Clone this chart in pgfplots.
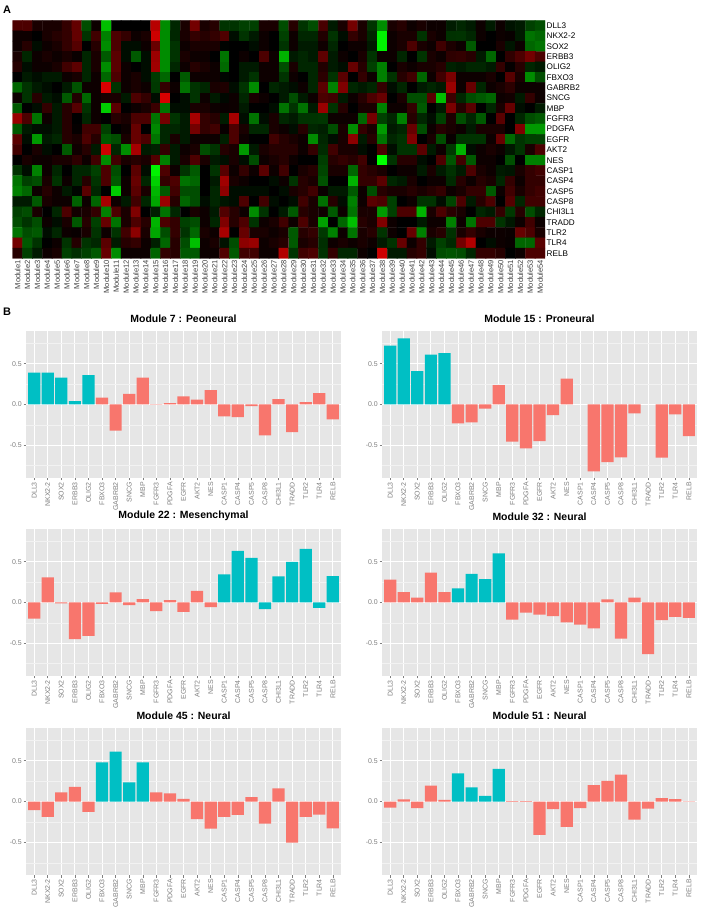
\documentclass[border=0pt]{standalone}
\usepackage{fontspec}
\setmainfont{Liberation Sans}
\usepackage{pgfplots}
\pgfplotsset{compat=1.18}
\usepackage{pgfplotstable}

\definecolor{ggbg}{RGB}{230,230,230}
\definecolor{ggminor}{RGB}{242,242,242}
\definecolor{ggcyan}{RGB}{0,191,196}
\definecolor{ggred}{RGB}{248,118,109}
\definecolor{ggtick}{RGB}{127,127,127}

% heatmap values, one gene per block of three lines (modules 1-18, 19-36, 37-54)
\pgfplotstableread[row sep=\\, header=false]{
0.3\\0.3\\0.1\\0.1\\0.1\\0.2\\0.39\\-0.3\\0.05\\-0.75\\0\\0\\0\\0\\0.72\\-0.55\\-0.15\\0.1\\
0.45\\0.1\\0.15\\-0.2\\-0.2\\-0.25\\-0.25\\0.1\\0.1\\-0.3\\0.15\\-0.2\\-0.3\\0.28\\-0.1\\0.1\\0.45\\0.1\\
-0.2\\-0.55\\0.1\\0.15\\0.05\\0.1\\0.05\\0.05\\-0.11\\-0.15\\-0.1\\0.05\\-0.1\\0.05\\-0.07\\-0.1\\-0.25\\-0.3\\
0.05\\0.05\\0\\0.1\\0.15\\0.2\\0.39\\-0.2\\0.25\\-0.5\\0.3\\0.2\\0.05\\0.1\\0.81\\-0.55\\-0.15\\0.1\\
0.2\\0.15\\0.2\\0.31\\-0.05\\-0.2\\-0.1\\0.05\\0\\-0.25\\0.05\\-0.15\\-0.15\\0.13\\-0.2\\-0.05\\0.2\\0.1\\
-0.15\\-0.95\\0.05\\0.1\\0.1\\-0.2\\0.1\\0.05\\-0.19\\-0.2\\-0.15\\0.05\\0\\0.05\\0.03\\-0.1\\-0.45\\-0.4\\
0.05\\0.15\\-0.05\\0.05\\0.1\\0.2\\0.33\\0\\0.15\\-0.55\\0.3\\-0.05\\-0.05\\0.05\\0.41\\-0.55\\-0.2\\0.05\\
0.1\\0.1\\0.1\\-0.01\\0\\0\\-0.05\\0.05\\0\\-0.2\\0.05\\-0.1\\-0.1\\0.06\\-0.15\\0\\0.05\\0.05\\
-0.1\\-0.95\\0.05\\0.1\\0.3\\0.1\\0.05\\0.25\\0.11\\0.05\\-0.35\\0\\0\\0.1\\-0.08\\0.05\\-0.4\\-0.45\\
0.1\\-0.15\\0.05\\0.1\\0.05\\0.1\\0.04\\-0.15\\0.1\\-0.35\\0.35\\-0.05\\-0.35\\-0.05\\0.61\\-0.55\\-0.2\\0.1\\
0.05\\0.05\\0\\-0.45\\0\\0.05\\0\\0.3\\0.05\\-0.7\\-0.1\\-0.15\\-0.1\\0.37\\-0.1\\0.05\\0\\0.1\\
-0.2\\0.05\\0.05\\-0.15\\0\\-0.2\\0.1\\0.05\\0.18\\0.2\\0.15\\-0.1\\-0.4\\0\\0.19\\0.3\\0.45\\0.3\\
0.15\\-0.05\\0.05\\0.05\\0.1\\0.25\\0.36\\-0.15\\0.1\\-0.55\\0.35\\0.05\\0\\-0.05\\0.63\\-0.55\\-0.15\\0.05\\
0.15\\0.1\\0.05\\-0.41\\0\\-0.1\\-0.1\\0.05\\0.05\\-0.3\\0.1\\-0.15\\-0.15\\0.13\\-0.1\\-0.05\\0.4\\0.15\\
-0.25\\-0.5\\0\\0.1\\0.05\\0.1\\0.1\\0.15\\-0.13\\-0.1\\-0.15\\-0.15\\-0.1\\0.2\\0.02\\0.15\\-0.15\\-0.1\\
0\\-0.1\\-0.05\\-0.1\\-0.1\\0.05\\0.09\\-0.15\\0.05\\-0.4\\0.3\\0.05\\0.1\\-0.05\\-0.23\\-0.4\\0\\-0.35\\
0.05\\0.05\\0.05\\-0.02\\0\\-0.1\\-0.2\\0.05\\0.05\\-0.2\\0.05\\0\\-0.15\\0.17\\-0.2\\0.35\\0\\0.2\\
0.05\\-0.5\\-0.2\\0.15\\0.25\\-0.4\\0.05\\0.25\\0.48\\0.05\\0.05\\0.05\\0.1\\0\\0.34\\0.1\\-0.55\\-0.3\\
-0.4\\-0.2\\-0.1\\-0.05\\0\\-0.1\\-0.32\\0.05\\0.05\\0.85\\-0.2\\0.05\\0.1\\0.05\\-0.22\\0.2\\0.05\\-0.45\\
-0.2\\-0.15\\0.1\\0.12\\-0.05\\-0.2\\-0.55\\0\\-0.15\\-0.1\\-0.05\\0.05\\-0.15\\0.35\\-0.5\\0.5\\-0.15\\-0.1\\
-0.15\\0.2\\-0.05\\-0.15\\0\\-0.1\\-0.15\\-0.1\\0.61\\0.05\\0.4\\-0.15\\0.05\\0.1\\0.17\\0.05\\0.05\\0.05\\
0.05\\-0.2\\0.15\\-0.1\\-0.05\\-0.35\\0.13\\-0.4\\0.05\\0.1\\0.1\\-0.1\\0.3\\0.2\\-0.05\\0.85\\0\\-0.05\\
-0.2\\0.05\\-0.1\\-0.03\\0.05\\-0.15\\0.1\\0.05\\0\\-0.1\\-0.3\\-0.1\\0.05\\0.29\\0.25\\-0.1\\0.05\\0.15\\
0.3\\0.4\\0\\0.1\\-0.3\\-0.3\\0.35\\-0.75\\0.23\\-0.15\\-0.3\\-0.35\\-0.4\\0.05\\0.07\\-0.1\\0.2\\0.05\\
-0.35\\0\\-0.05\\0.2\\-0.1\\0.15\\0.33\\-0.2\\0.05\\-0.8\\0.35\\0\\0.05\\0.1\\0.23\\-0.45\\-0.05\\-0.05\\
0.1\\0.1\\0.05\\0.04\\0.05\\-0.1\\0\\0\\-0.05\\-0.45\\-0.2\\-0.45\\-0.1\\0.6\\-0.2\\0.15\\0\\0.1\\
0.1\\-0.5\\0.05\\0.05\\0.2\\-0.35\\0\\-0.1\\0.48\\0.15\\0.35\\0\\-0.15\\0.1\\0.4\\-0.05\\0\\-0.1\\
0.6\\0.3\\-0.45\\0.05\\-0.1\\0.15\\0\\-0.15\\0.05\\0\\0.15\\0.1\\0.3\\0.3\\-0.46\\0.45\\-0.2\\-0.1\\
0.65\\0.2\\0.15\\-0.11\\0.65\\-0.05\\-0.45\\-0.05\\0.1\\-0.15\\-0.1\\-0.2\\-0.2\\-0.21\\0.05\\0.05\\0.05\\-0.4\\
0.45\\-0.25\\-0.15\\-0.5\\0.15\\-0.15\\-0.05\\-0.25\\0.11\\-0.3\\-0.15\\-0.35\\0\\0.35\\0\\-0.15\\-0.3\\-0.35\\
-0.35\\-0.1\\-0.05\\-0.05\\-0.1\\0.15\\0.02\\0.25\\0.25\\-0.25\\0\\0.05\\0.4\\0\\-0.53\\-0.15\\-0.15\\-0.1\\
0.45\\0.2\\0.25\\0.03\\0.3\\0.1\\-0.15\\-0.15\\0.1\\0.05\\-0.05\\0.15\\-0.15\\-0.12\\-0.3\\0.1\\-0.55\\0.2\\
0.1\\-0.6\\-0.1\\-0.15\\0.4\\-0.3\\0.05\\0.15\\0.1\\0.05\\-0.1\\0.1\\0.1\\0.1\\0\\0.5\\-0.6\\-0.6\\
0.35\\-0.05\\-0.6\\-0.1\\-0.15\\0.15\\0.1\\0.3\\0.15\\-0.35\\-0.3\\0.1\\0.4\\0.3\\-0.45\\-0.15\\0.1\\-0.1\\
0.05\\0.05\\0.05\\-0.12\\0.3\\0.05\\0\\0\\0.25\\0.15\\0.1\\0.05\\-0.55\\-0.15\\-0.05\\0.1\\0.55\\-0.1\\
0.15\\-0.45\\-0.15\\-0.2\\0.5\\0\\0.1\\-0.3\\0.03\\-0.2\\-0.2\\-0.2\\0.05\\0.4\\-0.41\\-0.2\\-0.25\\-0.25\\
0.25\\0\\0.1\\-0.05\\0\\-0.35\\0.06\\0.15\\-0.1\\0.8\\-0.15\\-0.55\\0.65\\-0.1\\-0.13\\0.2\\-0.1\\0.05\\
0.1\\-0.3\\-0.2\\0.14\\0.1\\-0.6\\-0.1\\0.1\\0.15\\0.15\\0.15\\0.05\\0.2\\-0.17\\0.25\\0.1\\0.1\\-0.05\\
0\\0.3\\-0.05\\-0.2\\-0.2\\0.35\\-0.1\\0.05\\-0.22\\-0.7\\-0.05\\0.05\\0.1\\0.05\\-0.09\\-0.2\\0.1\\0.3\\
0\\0.1\\0.05\\0.05\\0.1\\0.1\\0.18\\0.05\\0.25\\-0.55\\0.25\\0.1\\0.15\\0.1\\0.32\\-0.5\\-0.1\\0.1\\
0.3\\0.1\\-0.1\\-0.06\\0.1\\-0.05\\-0.3\\0.05\\0.1\\0.15\\0.05\\0\\0\\-0.24\\0.15\\0.2\\0.15\\0.25\\
0\\-1\\-0.2\\0.15\\0.15\\-0.05\\0\\0.3\\-0.33\\0.25\\-0.35\\0.05\\0.05\\0\\-0.31\\0\\-0.5\\-0.5\\
-0.2\\-0.05\\-0.5\\0.05\\-0.15\\0\\-0.15\\-0.15\\-0.25\\0.3\\-0.3\\0\\0.35\\-0.05\\-0.95\\0.3\\0.05\\-0.2\\
-0.35\\0\\-0.2\\0.34\\0.05\\0.2\\0.05\\0.35\\0.05\\0.25\\0\\0.1\\0.15\\-0.27\\0.1\\0.1\\-0.4\\0.2\\
0.15\\0.1\\0\\0.05\\0.05\\-0.1\\0.1\\-0.1\\-0.19\\-0.1\\0.3\\0.1\\0.05\\-0.1\\-0.08\\0.1\\0.2\\0.25\\
-0.45\\-0.25\\-0.3\\0.1\\-0.2\\0.05\\-0.15\\0.15\\-0.2\\0.3\\-0.35\\0.05\\0.4\\-0.15\\-0.82\\0.2\\0.3\\-0.45\\
-0.4\\0\\-0.1\\0.63\\0.1\\0.05\\0\\0\\-0.05\\0.05\\-0.2\\0.15\\0.1\\-0.32\\0\\0\\-0.7\\0.2\\
0.2\\0.35\\-0.15\\-0.1\\0.1\\0\\0.05\\0.05\\-0.16\\0.15\\0.05\\0.15\\0.1\\-0.15\\0.2\\0.05\\0.2\\0.2\\
-0.5\\-0.4\\0.05\\0.15\\0.05\\-0.1\\-0.02\\0.35\\-0.15\\0\\-0.8\\0.05\\0.35\\0.1\\-0.71\\-0.35\\0.25\\-0.3\\
-0.3\\0\\-0.15\\0.55\\-0.05\\-0.05\\-0.05\\-0.05\\0\\-0.05\\0.1\\0.15\\0.25\\0.04\\-0.1\\-0.1\\-0.35\\0.05\\
-0.3\\0.15\\0.1\\0.1\\0.15\\0.1\\0.15\\0.2\\0.05\\0.1\\0.2\\0.2\\-0.35\\0.05\\0.25\\0.1\\0.2\\0.25\\
-0.1\\-0.1\\-0.35\\0.1\\0.05\\0.05\\-0.38\\0.05\\-0.4\\0.65\\0.05\\-0.1\\0.25\\-0.15\\-0.65\\0.6\\0.15\\-0.4\\
-0.3\\-0.05\\-0.15\\-0.08\\-0.05\\0.3\\0\\0.25\\-0.05\\0\\-0.05\\0.25\\0.1\\-0.44\\0.15\\-0.05\\-0.5\\0.05\\
0.35\\0.3\\-0.25\\0\\0.05\\-0.2\\-0.2\\-0.05\\-0.27\\0.3\\-0.1\\0.15\\0.3\\0\\0.33\\-0.15\\0.25\\0.25\\
-0.25\\-0.3\\0.1\\0\\-0.15\\0.3\\0.07\\0.1\\0.2\\-0.5\\0.3\\0.1\\0.5\\0\\-0.12\\-0.45\\-0.15\\0\\
0.1\\0.05\\-0.1\\0.32\\0.15\\0.05\\-0.55\\-0.2\\0\\-0.1\\-0.35\\0.15\\0.1\\0.06\\-0.35\\0.05\\-0.45\\0.1\\
0.1\\-0.6\\-0.25\\0.3\\0.3\\-0.7\\0.1\\0.3\\0.16\\0.1\\0\\-0.15\\-0.1\\0.2\\-0.22\\0.15\\-0.3\\-0.15\\
-0.3\\-0.2\\-0.3\\0.05\\-0.05\\0.1\\-0.34\\0.15\\-0.25\\0.4\\-0.45\\0.1\\0.3\\0.15\\-0.7\\0.3\\0.2\\-0.25\\
-0.3\\0.05\\-0.15\\0.5\\0.15\\0.3\\-0.2\\0.05\\0.1\\0.25\\0.05\\0.3\\0.1\\-0.63\\0\\-0.4\\-0.75\\0.15\\
0.1\\0.5\\0.05\\0\\0\\-0.1\\0.05\\0.05\\-0.5\\0.05\\-0.45\\0.3\\0.3\\-0.2\\-0.09\\0.05\\0.25\\0.05\\
-0.45\\-0.3\\-0.35\\-0.05\\-0.15\\0.05\\0.03\\0.1\\-0.2\\0.05\\-0.2\\0.25\\0.55\\0.1\\-0.65\\-0.3\\0.2\\-0.2\\
-0.4\\0.1\\0.05\\0.66\\0\\0.4\\0.1\\0.1\\0.05\\0.1\\-0.35\\0.15\\0.2\\-0.22\\-0.5\\0.05\\-0.45\\0.1\\
0.15\\-0.2\\0.05\\0\\0.4\\-0.5\\0.1\\0.15\\-0.19\\0.1\\0.2\\0.1\\0.05\\0.05\\0.04\\0.4\\0.3\\0.1\\
0.45\\-0.35\\-0.2\\0\\0.05\\-0.2\\0.14\\-0.2\\-0.15\\0.35\\-0.1\\0.15\\0.2\\0.05\\-0.12\\-0.4\\0.15\\-0.3\\
-0.75\\0.05\\0.1\\-0.07\\-0.3\\0.55\\0.6\\0.05\\0.1\\0.15\\-0.35\\0.1\\0.15\\-0.18\\0.05\\0.1\\0.05\\0.1\\
0.05\\-0.1\\-0.2\\0.4\\0.05\\0.2\\-0.1\\-0.25\\-0.16\\0.45\\0.7\\0\\-0.05\\0.05\\0.03\\-0.4\\-0.4\\0.35\\
0.15\\-0.25\\-0.1\\0.05\\0.1\\-0.25\\-0.18\\-0.25\\-0.35\\0.4\\-0.55\\0.05\\0.05\\0.05\\-0.39\\0.2\\0.15\\-0.35\\
-0.35\\0.05\\0.05\\0.32\\-0.35\\0.25\\0.25\\0.05\\0.05\\0.7\\-0.2\\0.25\\0.3\\-0.19\\0.2\\-0.15\\-0.15\\0.05\\
0\\0.8\\-0.1\\-0.1\\0.15\\0.2\\-0.05\\-0.3\\-0.33\\-0.3\\-0.15\\0.2\\0.2\\0.15\\0\\0.05\\0.3\\0.3\\
}\heat

\pgfplotsset{
  modbar/.style={
    scale only axis, width=315bp, height=147bp, anchor=south west,
    xmin=-0.6, xmax=22.6, ymin=-0.9, ymax=0.9,
    axis background/.style={fill=ggbg},
    axis line style={draw=none},
    xtick={0,...,22},
    xticklabels={DLL3,NKX2-2,SOX2,ERBB3,OLIG2,FBXO3,GABRB2,SNCG,MBP,FGFR3,PDGFA,EGFR,AKT2,NES,CASP1,CASP4,CASP5,CASP8,CHI3L1,TRADD,TLR2,TLR4,RELB},
    ytick={-0.5,0,0.5}, yticklabels={-0.5,0.0,0.5},
    minor ytick={-0.75,-0.25,0.25,0.75},
    xmajorgrids, ymajorgrids, yminorgrids,
    major grid style={white, line width=0.9bp},
    minor grid style={ggminor, line width=0.5bp},
    tick pos=left, tick align=outside,
    major tick length=2.5bp, minor tick length=0pt,
    tick style={ggtick, line width=0.5bp},
    x tick label style={rotate=90, anchor=east, font=\fontsize{7}{8}\selectfont, text=ggtick, inner sep=1.5bp},
    y tick label style={font=\fontsize{7}{8}\selectfont, text=ggtick, inner sep=1.5bp},
    title style={font=\bfseries\fontsize{10.5}{12}\selectfont, at={(0.5,1)}, anchor=south, inner sep=2bp},
    ybar, bar width=0.9,
  },
  inset/.style={fill=ggcyan, draw=none, bar shift=0pt},
  outset/.style={fill=ggred, draw=none, bar shift=0pt},
}

\begin{document}
\begin{tikzpicture}
\path[use as bounding box] (0,0) rectangle (703bp,914bp);

\node[font=\bfseries\fontsize{11}{13}\selectfont, anchor=base west, inner sep=0pt] at (3bp,900.5bp) {A};
\node[font=\bfseries\fontsize{11}{13}\selectfont, anchor=base west, inner sep=0pt] at (3bp,598.5bp) {B};

% heatmap
\begin{axis}[
    at={(12.7bp,655.5bp)}, anchor=south west, scale only axis,
    width=532.3bp, height=238bp,
    xmin=0.5, xmax=54.5, ymin=-0.5, ymax=22.5, y dir=reverse,
    axis line style={draw=none}, tick style={draw=none},
    xtick={1,...,54},
    xticklabels={Module1,Module2,Module3,Module4,Module5,Module6,Module7,Module8,Module9,Module10,Module11,Module12,Module13,Module14,Module15,Module16,Module17,Module18,Module19,Module20,Module21,Module22,Module23,Module24,Module25,Module26,Module27,Module28,Module29,Module30,Module31,Module32,Module33,Module34,Module35,Module36,Module37,Module38,Module39,Module40,Module41,Module42,Module43,Module44,Module45,Module46,Module47,Module48,Module49,Module50,Module51,Module52,Module53,Module54},
    ytick={0,...,22},
    yticklabels={DLL3,NKX2-2,SOX2,ERBB3,OLIG2,FBXO3,GABRB2,SNCG,MBP,FGFR3,PDGFA,EGFR,AKT2,NES,CASP1,CASP4,CASP5,CASP8,CHI3L1,TRADD,TLR2,TLR4,RELB},
    yticklabel pos=right,
    x tick label style={rotate=90, anchor=east, font=\fontsize{7.6}{8}\selectfont, text=black!75, inner sep=1.5bp},
    y tick label style={anchor=west, font=\fontsize{8.2}{9}\selectfont, inner sep=1.5bp},
    colormap={rg}{rgb255(0cm)=(0,255,0); rgb255(1cm)=(0,0,0); rgb255(2cm)=(255,0,0)},
    point meta min=-1, point meta max=1,
  ]
  \addplot[matrix plot*, mesh/cols=54, mesh/rows=23, point meta=explicit]
    table[x index=0, y index=0,
          x expr={\coordindex-54*floor((\coordindex+0.5)/54)+1},
          y expr={floor((\coordindex+0.5)/54)},
          meta index=0] {\heat};
\end{axis}

% Module 7
\begin{axis}[modbar, at={(26bp,436bp)}, title={Module 7 : Peoneural}]
  \addplot[inset] coordinates {(0,0.39) (1,0.39) (2,0.33) (3,0.04) (4,0.36)};
  \addplot[outset] coordinates {(5,0.085) (6,-0.32) (7,0.13) (8,0.33) (9,0.004) (10,0.016) (11,0.10) (12,0.06) (13,0.175) (14,-0.146) (15,-0.154) (16,-0.02) (17,-0.378) (18,0.065) (19,-0.337) (20,0.028) (21,0.138) (22,-0.183)};
\end{axis}

% Module 15
\begin{axis}[modbar, at={(382bp,436bp)}, title={Module 15 : Proneural}]
  \addplot[inset] coordinates {(0,0.72) (1,0.81) (2,0.41) (3,0.61) (4,0.63)};
  \addplot[outset] coordinates {(5,-0.23) (6,-0.22) (7,-0.05) (8,0.236) (9,-0.455) (10,-0.537) (11,-0.447) (12,-0.13) (13,0.317) (15,-0.82) (16,-0.707) (17,-0.646) (18,-0.11) (20,-0.65) (21,-0.122) (22,-0.386)};
\end{axis}

% Module 22
\begin{axis}[modbar, at={(26bp,238bp)}, title={Module 22 : Mesenchymal}]
  \addplot[outset] coordinates {(0,-0.197) (1,0.307) (2,-0.012) (3,-0.45) (4,-0.41) (5,-0.016) (6,0.123) (7,-0.033) (8,0.041) (9,-0.107) (10,0.029) (11,-0.115) (12,0.143) (13,-0.057)};
  \addplot[inset] coordinates {(14,0.344) (15,0.631) (16,0.545) (17,-0.082) (18,0.32) (19,0.496) (20,0.656) (21,-0.066) (22,0.324)};
\end{axis}

% Module 32
\begin{axis}[modbar, at={(382bp,238bp)}, title={Module 32 : Neural}]
  \addplot[outset] coordinates {(0,0.279) (1,0.127) (2,0.061) (3,0.365) (4,0.127) (9,-0.209) (10,-0.123) (11,-0.148) (12,-0.168) (13,-0.242) (14,-0.27) (15,-0.316) (16,0.037) (17,-0.443) (18,0.061) (19,-0.631) (20,-0.217) (21,-0.176) (22,-0.189)};
  \addplot[inset] coordinates {(5,0.172) (6,0.352) (7,0.287) (8,0.602)};
\end{axis}

% Module 45
\begin{axis}[modbar, at={(26bp,39bp)}, title={Module 45 : Neural}]
  \addplot[outset] coordinates {(0,-0.107) (1,-0.189) (2,0.111) (3,0.18) (4,-0.127) (9,0.111) (10,0.098) (11,0.033) (12,-0.217) (13,-0.332) (14,-0.189) (15,-0.164) (16,0.053) (17,-0.27) (18,0.16) (19,-0.504) (20,-0.189) (21,-0.16) (22,-0.328)};
  \addplot[inset] coordinates {(5,0.48) (6,0.61) (7,0.234) (8,0.48)};
\end{axis}

% Module 51
\begin{axis}[modbar, at={(382bp,39bp)}, title={Module 51 : Neural}]
  \addplot[outset] coordinates {(0,-0.074) (1,0.025) (2,-0.082) (3,0.193) (4,0.02) (9,0.004) (10,0.004) (11,-0.41) (12,-0.094) (13,-0.311) (14,-0.082) (15,0.2) (16,0.254) (17,0.328) (18,-0.221) (19,-0.086) (20,0.041) (21,0.029) (22,0.002)};
  \addplot[inset] coordinates {(5,0.344) (6,0.172) (7,0.07) (8,0.398)};
\end{axis}
\end{tikzpicture}
\end{document}
